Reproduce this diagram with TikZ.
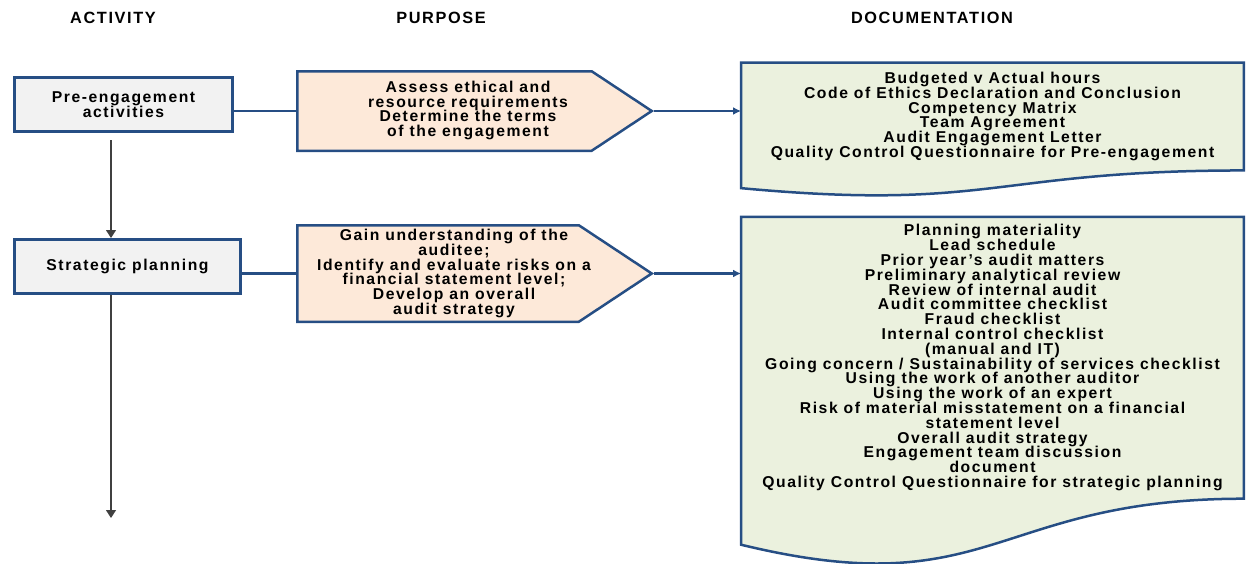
\documentclass[tikz,border=0pt]{standalone}
\usepackage{fontspec}
\setmainfont{Liberation Sans}[LetterSpace=10]
\usetikzlibrary{arrows.meta,positioning,calc,shapes.symbols,backgrounds}
\definecolor{Border}{HTML}{264E84}
\definecolor{BoxGray}{HTML}{F2F2F2}
\definecolor{SoftPeach}{HTML}{FDE9D9}
\definecolor{SoftGreen}{HTML}{EBF1DE}
\definecolor{FlowGray}{HTML}{404040}
\newcommand{\bodyfont}{\bfseries\fontsize{15.7}{14.8}\selectfont}
\tikzset{
 head/.style={font=\bfseries\fontsize{16.3}{16}\selectfont},
 actbox/.style={draw=Border, line width=3pt, fill=BoxGray, minimum height=54pt, inner sep=0pt, align=center, font=\bodyfont},
 purpose/.style={signal, signal to=east, signal pointer angle=67, draw=Border, line width=2.5pt, fill=SoftPeach, minimum width=354.5pt, inner sep=0pt, anchor=west},
 purtext/.style={inner sep=0pt, align=center, font=\bodyfont},
 docnode/.style={minimum width=502.5pt, inner sep=0pt, align=center, font=\bodyfont},
 docshape/.style={draw=Border, line width=2.5pt, fill=SoftGreen},
 link/.style={draw=Border, line width=2.2pt},
 linkarrow/.style={link, -{Latex[length=8pt,width=8pt]}},
 flow/.style={draw=FlowGray, line width=1.2pt, -{Triangle[length=8pt,width=10pt]}}
}
\begin{document}
\begin{tikzpicture}[x=1pt,y=-1pt]
\useasboundingbox (0,0) rectangle (1247,563);

% column titles
\node[head] (hact) at (113,18) {ACTIVITY};
\node[head] (hpur) at (441,18) {PURPOSE};
\node[head] (hdoc) at (932,18) {DOCUMENTATION};

% activities
\node[actbox, minimum width=218pt] (pre) at (123.5,104.5) {Pre-engagement\\activities};
\node[actbox, minimum width=226pt] (strat) at (127.5,266.5) {Strategic planning};
\coordinate (flowend) at (111,518);

% purposes
\node[purpose, minimum height=79.5pt] (purpre) at (296,111) {};
\node[purtext] (purpretext) at (468,110.5) {Assess ethical and\\resource requirements\\Determine the terms\\of the engagement};
\node[purpose, minimum height=96.5pt] (purstrat) at (296,273.5) {};
\node[purtext] (purstrattext) at (454,273.5) {Gain understanding of the\\auditee;\\Identify and evaluate risks on a\\financial statement level;\\Develop an overall\\audit strategy};

% documentation
\node[docnode, minimum height=107.5pt] (docpre) at (992.5,116.5) {Budgeted v Actual hours\\Code of Ethics Declaration and Conclusion\\Competency Matrix\\Team Agreement\\Audit Engagement Letter\\Quality Control Questionnaire for Pre-engagement};
\node[docnode, minimum height=281.5pt] (docstrat) at (992.5,357.75) {Planning materiality\\Lead schedule\\Prior year's audit matters\\Preliminary analytical review\\Review of internal audit\\Audit committee checklist\\Fraud checklist\\Internal control checklist\\(manual and IT)\\Going concern / Sustainability of services checklist\\Using the work of another auditor\\Using the work of an expert\\Risk of material misstatement on a financial\\statement level\\Overall audit strategy\\Engagement team discussion\\document\\Quality Control Questionnaire for strategic planning};

\begin{scope}[on background layer]
\path[docshape] (docpre.north west) -- (docpre.north east) -- (docpre.south east)
 .. controls (docpre.south) and ($(docpre.south)+(0,41)$) .. ($(docpre.south west)+(0,17.7)$) -- cycle;
\path[docshape] (docstrat.north west) -- (docstrat.north east) -- (docstrat.south east)
 .. controls (docstrat.south) and ($(docstrat.south)+(0,107)$) .. ($(docstrat.south west)+(0,46)$) -- cycle;
\end{scope}

% connectors
\draw[link] (purpre.west -| pre.east) -- (purpre.west);
\draw[link] (purstrat.west -| strat.east) -- (purstrat.west);
\draw[linkarrow] (purpre.east) -- (purpre.east -| docpre.west);
\draw[linkarrow] (purstrat.east) -- (purstrat.east -| docstrat.west);
\draw[flow, shorten <=7pt] (pre.south -| flowend) -- (strat.north -| flowend);
\draw[flow] (strat.south -| flowend) -- (flowend);
\end{tikzpicture}
\end{document}
